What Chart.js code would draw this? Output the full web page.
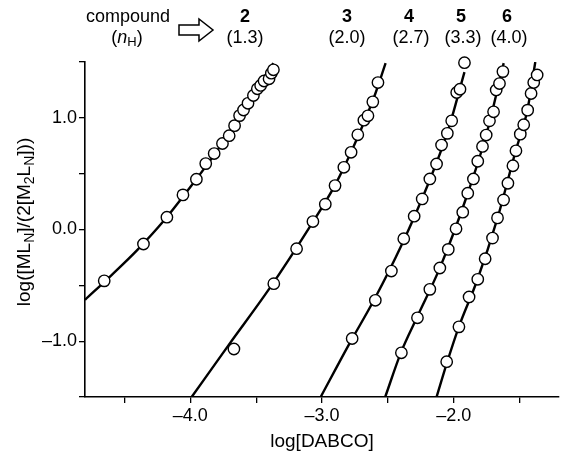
<!DOCTYPE html>
<html><head><meta charset="utf-8">
<script src="https://cdn.jsdelivr.net/npm/chart.js@4.4.1/dist/chart.umd.min.js"></script>
<style>html,body{margin:0;padding:0;background:#fff}</style>
</head><body>
<canvas id="c" width="577" height="455"></canvas>
<script>
// ---- data ----
const compoundIds = ['2', '3', '4', '5', '6'];
const nHValues = ['1.3', '2.0', '2.7', '3.3', '4.0'];

const compound2X = [-4.654,-4.356,-4.178,-4.056,-3.954,-3.883,-3.819,-3.756,-3.705,-3.664,-3.626,-3.596,-3.562,-3.521,-3.491,-3.466,-3.440,-3.402,-3.385,-3.369];
const compound2Y = [-0.46,-0.13,0.11,0.31,0.45,0.59,0.68,0.77,0.84,0.93,1.02,1.07,1.13,1.20,1.26,1.29,1.33,1.35,1.40,1.43];
const compound3X = [-3.669,-3.366,-3.193,-3.069,-2.975,-2.901,-2.834,-2.779,-2.728,-2.682,-2.651,-2.614,-2.575];
const compound3Y = [-1.07,-0.485,-0.172,0.071,0.227,0.393,0.557,0.691,0.848,0.979,1.018,1.143,1.316];
const compound4X = [-2.771,-2.595,-2.473,-2.379,-2.300,-2.239,-2.181,-2.130,-2.092,-2.048,-2.015,-1.977,-1.952,-1.918];
const compound4Y = [-0.976,-0.634,-0.372,-0.083,0.119,0.274,0.453,0.587,0.756,0.861,0.973,1.227,1.256,1.494];
const compound5X = [-2.397,-2.275,-2.181,-2.105,-2.041,-1.982,-1.931,-1.893,-1.850,-1.817,-1.781,-1.753,-1.728,-1.697,-1.677,-1.652,-1.626];
const compound5Y = [-1.104,-0.791,-0.536,-0.345,-0.178,0.006,0.155,0.325,0.453,0.611,0.744,0.846,0.973,1.054,1.25,1.307,1.414];
const compound6X = [-2.053,-1.960,-1.883,-1.817,-1.761,-1.705,-1.667,-1.621,-1.588,-1.550,-1.527,-1.494,-1.468,-1.438,-1.412,-1.392,-1.366];
const compound6Y = [-1.184,-0.872,-0.604,-0.446,-0.262,-0.077,0.104,0.265,0.414,0.571,0.705,0.854,0.938,1.069,1.218,1.316,1.384];

// fitted curves
const fit2X = [-4.8,-4.6,-4.4,-4.2,-4.0,-3.8,-3.6,-3.37];
const fit2Y = [-0.63,-0.41,-0.18,0.08,0.38,0.70,1.05,1.49];
const fit3X = [-3.99,-3.7,-3.4,-3.1,-2.9,-2.75,-2.6,-2.517];
const fit3Y = [-1.5,-1.02,-0.53,0.01,0.40,0.77,1.20,1.49];
const fit4X = [-3.01,-2.8,-2.6,-2.4,-2.2,-2.05,-1.918];
const fit4Y = [-1.5,-1.04,-0.62,-0.15,0.39,0.86,1.41];
const fit5X = [-2.52,-2.4,-2.28,-2.1,-1.9,-1.75,-1.62];
const fit5Y = [-1.5,-1.10,-0.79,-0.33,0.30,0.86,1.49];
const fit6X = [-2.13,-2.05,-1.96,-1.82,-1.67,-1.53,-1.44,-1.38];
const fit6Y = [-1.5,-1.19,-0.87,-0.45,0.09,0.70,1.07,1.50];

const xTickLabels = [-4.0, -3.0, -2.0];
const yTickLabels = [-1.0, 0.0, 1.0];
const xRange = [-4.8, -1.2];
const yRange = [-1.5, 1.5];

// ---- build datasets ----
const pts = (xs, ys) => xs.map((x, i) => ({x, y: ys[i]}));
const FONT = "'Liberation Sans', Arial, sans-serif";
const markerSets = [[compound2X,compound2Y],[compound3X,compound3Y],[compound4X,compound4Y],[compound5X,compound5Y],[compound6X,compound6Y]];
const fitSets = [[fit2X,fit2Y],[fit3X,fit3Y],[fit4X,fit4Y],[fit5X,fit5Y],[fit6X,fit6Y]];
const datasets = [];
markerSets.forEach((s, i) => datasets.push({
  label: 'compound ' + compoundIds[i], data: pts(s[0], s[1]), showLine: false, order: 0, clip: false,
  pointRadius: 5.7, pointBackgroundColor: '#fff', pointBorderColor: '#000', pointBorderWidth: 1.4
}));
fitSets.forEach((s, i) => datasets.push({
  label: 'fit ' + compoundIds[i], data: pts(s[0], s[1]), showLine: true, order: 1,
  pointRadius: 0, borderColor: '#000', borderWidth: 2.4, cubicInterpolationMode: 'monotone', fill: false
}));

const fmt = v => (v < 0 ? '\u2013' : '') + Math.abs(v).toFixed(1);
const isIn = (arr, v) => arr.some(t => Math.abs(t - v) < 1e-6);

const annot = {
  id: 'annot',
  afterDraw(chart) {
    const ctx = chart.ctx;
    ctx.save();
    ctx.fillStyle = '#000';
    ctx.textBaseline = 'middle';
    ctx.textAlign = 'center';
    // top header
    ctx.font = '18px ' + FONT;
    ctx.fillText('compound', 128, 17);
    // (nH)
    const parts = [['(', '18px ' + FONT, 0], ['n', 'italic 18px ' + FONT, 0], ['H', '13px ' + FONT, 4], [')', '18px ' + FONT, 0]];
    let w = 0; parts.forEach(p => { ctx.font = p[1]; w += ctx.measureText(p[0]).width; });
    let x = 127 - w / 2; ctx.textAlign = 'left';
    parts.forEach(p => { ctx.font = p[1]; ctx.fillText(p[0], x, 38 + p[2]); x += ctx.measureText(p[0]).width; });
    // outline arrow
    ctx.beginPath();
    ctx.moveTo(179, 25); ctx.lineTo(199, 25); ctx.lineTo(199, 19); ctx.lineTo(213, 30);
    ctx.lineTo(199, 41); ctx.lineTo(199, 35); ctx.lineTo(179, 35); ctx.closePath();
    ctx.lineWidth = 1.5; ctx.strokeStyle = '#000'; ctx.stroke();
    // compound labels
    const lx = [245, 347, 409, 461, 507];
    ctx.textAlign = 'center';
    compoundIds.forEach((id, i) => {
      ctx.font = 'bold 18px ' + FONT; ctx.fillText(id, lx[i], 17);
      ctx.font = '18px ' + FONT; ctx.fillText('(' + nHValues[i] + ')', lx[i] + (i >= 2 ? 2 : 0), 38);
    });
    // y axis title with subscripts
    ctx.translate(25, 222); ctx.rotate(-Math.PI / 2);
    const big = '19px ' + FONT, sm = '14px ' + FONT;
    const yt = [['log([ML', big, 0], ['N', sm, 5], [']/(2[M', big, 0], ['2', sm, 5], ['L', big, 0], ['N', sm, 5], [']))', big, 0]];
    w = 0; yt.forEach(p => { ctx.font = p[1]; w += ctx.measureText(p[0]).width; });
    x = -w / 2; ctx.textAlign = 'left';
    yt.forEach(p => { ctx.font = p[1]; ctx.fillText(p[0], x, p[2]); x += ctx.measureText(p[0]).width; });
    ctx.restore();
  }
};

new Chart(document.getElementById('c'), {
  type: 'scatter',
  data: { datasets },
  options: {
    responsive: false, animation: false,
    layout: { padding: { top: 62, right: 18, left: 0, bottom: 0 } },
    plugins: { legend: { display: false }, tooltip: { enabled: false } },
    scales: {
      x: {
        type: 'linear', min: xRange[0], max: xRange[1],
        afterFit(s) { s.height = 58; },
        border: { display: true, color: '#000', width: 1.6 },
        grid: { drawOnChartArea: false, drawTicks: true, tickLength: 6, color: '#000', lineWidth: 1.3 },
        ticks: { stepSize: 0.5, includeBounds: false, autoSkip: false, maxRotation: 0, padding: 2, color: '#000',
          font: { size: 18, family: FONT },
          callback: v => isIn(xTickLabels, v) ? fmt(v) : '' },
        title: { display: true, text: 'log[DABCO]', color: '#000', font: { size: 19, family: FONT }, padding: { top: 0, bottom: 2 } }
      },
      y: {
        type: 'linear', min: yRange[0], max: yRange[1],
        afterFit(s) { s.width = 85; },
        border: { display: true, color: '#000', width: 1.6 },
        grid: { drawOnChartArea: false, drawTicks: true, tickLength: 6, color: '#000', lineWidth: 1.3 },
        ticks: { stepSize: 0.5, includeBounds: false, autoSkip: false, padding: 2, color: '#000',
          font: { size: 18, family: FONT },
          callback: v => isIn(yTickLabels, v) ? fmt(v) : '' }
      }
    }
  },
  plugins: [annot]
});
</script>
</body></html>
